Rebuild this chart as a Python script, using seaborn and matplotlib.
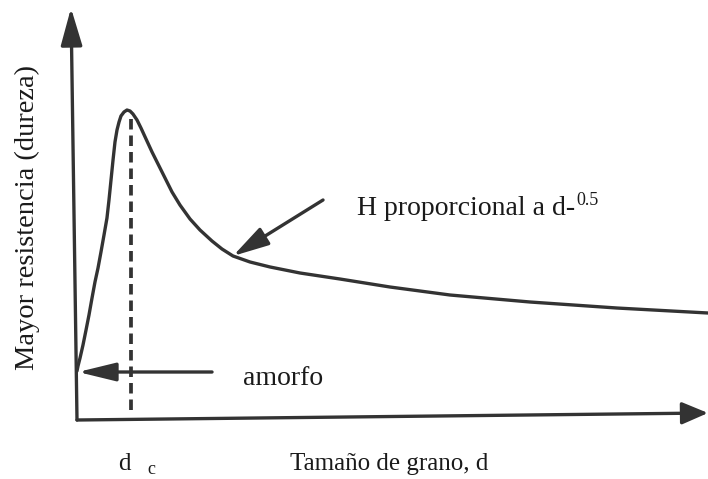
import matplotlib
matplotlib.use("Agg")
import matplotlib.pyplot as plt
import pandas as pd
import seaborn as sns

# Hardness versus grain size (arbitrary units): inverse Hall-Petch rise, peak at d_c,
# then the Hall-Petch decay H ~ d^-0.5
grain_size = [0.000, 0.016, 0.048, 0.095, 0.143, 0.190, 0.238, 0.285, 0.333, 0.380,
              0.428, 0.475, 0.507, 0.539, 0.571, 0.602, 0.634, 0.666, 0.697, 0.745,
              0.792, 0.840, 0.887, 0.951, 1.014, 1.094, 1.189, 1.284, 1.395, 1.506,
              1.632, 1.791, 1.949, 2.139, 2.298, 2.472, 2.742, 3.059, 3.534, 4.168,
              4.960, 5.911, 7.179, 8.558, 10.0]
hardness = [1.189, 1.311, 1.505, 1.820, 2.184, 2.549, 2.961, 3.350, 3.689, 4.078,
            4.490, 4.903, 5.340, 5.825, 6.311, 6.748, 7.039, 7.233, 7.379, 7.476,
            7.524, 7.500, 7.427, 7.282, 7.087, 6.820, 6.505, 6.214, 5.874, 5.534,
            5.218, 4.879, 4.612, 4.345, 4.150, 3.981, 3.835, 3.714, 3.568, 3.422,
            3.228, 3.034, 2.864, 2.718, 2.597]

critical_size = 0.85          # d_c, grain size at maximum hardness
amorphous_hardness = 1.165    # hardness of the amorphous state
hall_petch_point = (2.472, 3.981)

x_label = "Tamaño de grano, d"
y_label = "Mayor resistencia (dureza)"
hp_label = "H proporcional a d-"
hp_exponent = "0.5"
amorphous_label = "amorfo"

sns.set_theme(style="white")
plt.rcParams["font.family"] = ["Liberation Serif", "DejaVu Serif"]

W, H = 708, 479
fig = plt.figure(figsize=(W / 100, H / 100), dpi=100)
fig.patch.set_facecolor("white")
ax = fig.add_axes([77 / W, 59 / H, 631 / W, 412 / H])
ax.set_xlim(0, 10)
ax.set_ylim(0, 10)
ax.set_axis_off()

ink = "#333333"
lw = 2.4

df = pd.DataFrame({"d": grain_size, "H": hardness})
sns.lineplot(data=df, x="d", y="H", ax=ax, color=ink, linewidth=lw,
             sort=False, estimator=None, clip_on=False)
ax.lines[-1].set_solid_joinstyle("round")

# critical grain size marker
ax.plot([critical_size, critical_size], [0.24, 7.40], color=ink, linewidth=2.7,
        linestyle=(0, (2.8, 1.6)), clip_on=False)

# coordinate axes drawn as arrows
axis_arrow = dict(arrowstyle="-|>,head_length=1.15,head_width=0.33",
                  mutation_scale=20, color=ink, linewidth=lw,
                  shrinkA=0, shrinkB=0)
ax.annotate("", xy=(-0.0095, 1.0), xytext=(0, 0), xycoords="axes fraction",
            textcoords="axes fraction", arrowprops=axis_arrow, annotation_clip=False)
x_arrow = dict(axis_arrow, arrowstyle="-|>,head_length=0.8,head_width=0.34")
ax.annotate("", xy=(1.0, 0.017), xytext=(0, 0), xycoords="axes fraction",
            textcoords="axes fraction", arrowprops=x_arrow, annotation_clip=False)

# pointer to the amorphous state
pointer = dict(arrowstyle="-|>,head_length=1.15,head_width=0.28",
               mutation_scale=20, color=ink, linewidth=lw, shrinkA=0, shrinkB=0)
ax.annotate("", xy=(0.016, amorphous_hardness), xytext=(2.14, amorphous_hardness),
            arrowprops=pointer, annotation_clip=False)

# pointer to the Hall-Petch regime
hp_pointer = dict(pointer, arrowstyle="-|>,head_length=1.1,head_width=0.3")
ax.annotate("", xy=hall_petch_point, xytext=(3.899, 5.340),
            arrowprops=hp_pointer, annotation_clip=False)

text_color = "#1a1a1a"


def px(x, y):
    return x / W, 1 - y / H


hp = fig.text(*px(357, 215), hp_label, ha="left", va="baseline",
              color=text_color, fontsize=20)
fig.canvas.draw()
hp_right = hp.get_window_extent(fig.canvas.get_renderer()).x1
fig.text(*px(hp_right + 1, 205), hp_exponent, ha="left", va="baseline",
         color=text_color, fontsize=13)

fig.text(*px(243, 385), amorphous_label, ha="left", va="baseline",
         color=text_color, fontsize=20)
fig.text(*px(290, 470), x_label, ha="left", va="baseline",
         color=text_color, fontsize=18)
fig.text(*px(118, 470), "d", ha="left", va="baseline", color=text_color, fontsize=18)
fig.text(*px(147, 474), "c", ha="left", va="baseline", color=text_color, fontsize=13)
fig.text(*px(27, 218), y_label, ha="center", va="center", rotation=90,
         color=text_color, fontsize=20.5)

fig.savefig("out.png", dpi=100, facecolor="white")
